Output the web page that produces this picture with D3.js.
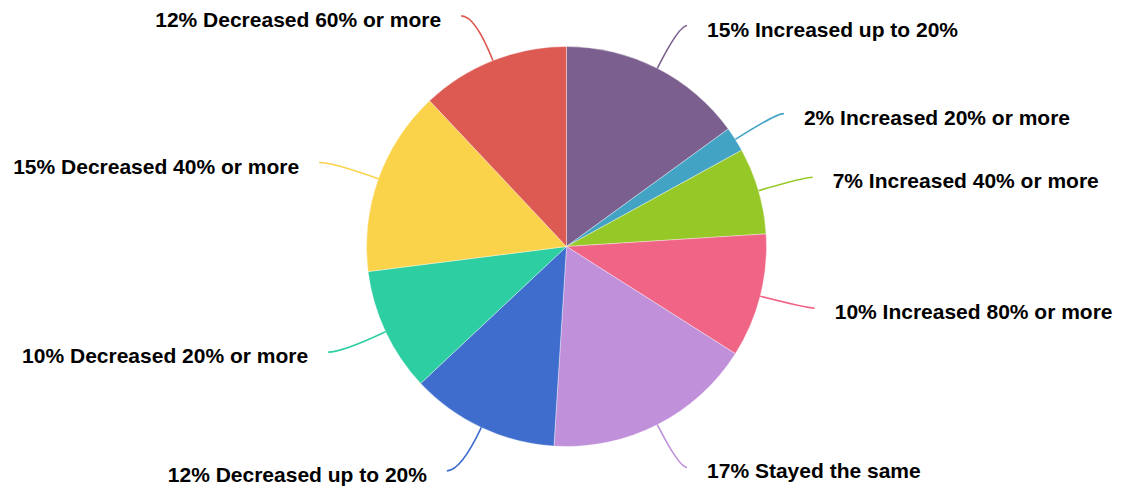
<!DOCTYPE html>
<html>
<head>
<meta charset="utf-8">
<script src="https://cdn.jsdelivr.net/npm/d3@7"></script>
<style>
  html, body { margin: 0; padding: 0; background: #ffffff; }
  svg { display: block; }
  .lbl { font-family: "Liberation Sans", Arial, Helvetica, sans-serif; font-weight: 700; font-size: 21px; fill: #000000; }
</style>
</head>
<body>
<svg id="chart" width="1124" height="489"></svg>
<script>
// Survey answers: share of respondents per change bracket (clockwise from 12 o'clock)
const categories = [
  "Increased up to 20%",
  "Increased 20% or more",
  "Increased 40% or more",
  "Increased 80% or more",
  "Stayed the same",
  "Decreased up to 20%",
  "Decreased 20% or more",
  "Decreased 40% or more",
  "Decreased 60% or more"
];
const shares = [15, 2, 7, 10, 17, 12, 10, 15, 12];
const sliceColors = [
  "#7b5f8e", "#42a3c5", "#96c928", "#f06586", "#c090da",
  "#3f6dcd", "#2dcfa2", "#fbd34a", "#dc5a52"
];

const width = 1124, height = 489;
const cx = 566.5, cy = 246.5, radius = 200;
const lineOut = 48;        // radial run of the leader line beyond the rim
const lineFlatRight = 8;   // horizontal run at the end of right-hand leader lines
const lineFlatLeft = 14;   // horizontal run at the end of left-hand leader lines
const textGap = 20;        // gap between leader line end and label

const data = categories.map((c, i) => ({ name: c, value: shares[i], color: sliceColors[i] }));

const svg = d3.select("#chart");
const g = svg.append("g").attr("transform", `translate(${cx},${cy})`);

const pie = d3.pie().sort(null).value(d => d.value);
const arc = d3.arc().innerRadius(0).outerRadius(radius);
const arcs = pie(data);

g.selectAll("path.slice")
  .data(arcs)
  .enter().append("path")
  .attr("class", "slice")
  .attr("d", arc)
  .attr("fill", d => d.data.color)
  .attr("stroke", "#ffffff")
  .attr("stroke-opacity", 0.6)
  .attr("stroke-width", 0.6);

// polar helper: angle measured clockwise from 12 o'clock
const polar = (a, r) => [r * Math.sin(a), -r * Math.cos(a)];

const labels = arcs.map(d => {
  const mid = (d.startAngle + d.endAngle) / 2;
  const right = Math.sin(mid) >= 0;
  const start = polar(mid, radius);
  const elbow = polar(mid, radius + lineOut);
  const end = [elbow[0] + (right ? lineFlatRight : -lineFlatLeft), elbow[1]];
  return { d, mid, right, start, elbow, end };
});

g.selectAll("path.leader")
  .data(labels)
  .enter().append("path")
  .attr("class", "leader")
  .attr("fill", "none")
  .attr("stroke", l => l.d.data.color)
  .attr("stroke-width", 1.6)
  .attr("d", l => {
    const p = d3.path();
    p.moveTo(l.start[0], l.start[1]);
    p.quadraticCurveTo(l.elbow[0], l.elbow[1], l.end[0], l.end[1]);
    return p.toString();
  });

g.selectAll("text.lbl")
  .data(labels)
  .enter().append("text")
  .attr("class", "lbl")
  .attr("x", l => l.end[0] + (l.right ? textGap : -textGap))
  .attr("y", l => l.end[1] + 11)
  .attr("text-anchor", l => l.right ? "start" : "end")
  .text(l => `${l.d.data.value}% ${l.d.data.name}`);
</script>
</body>
</html>
